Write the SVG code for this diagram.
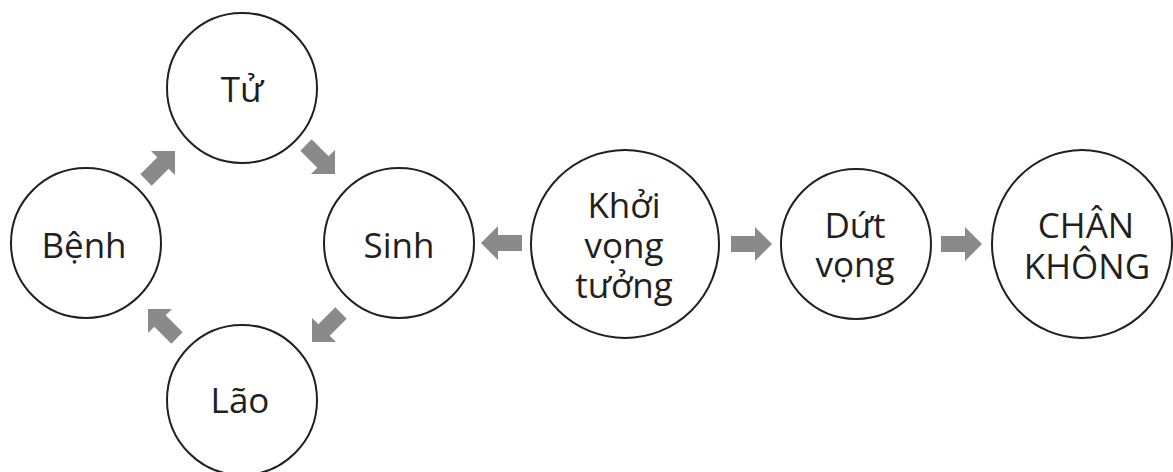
<svg xmlns="http://www.w3.org/2000/svg" xmlns:xlink="http://www.w3.org/1999/xlink" width="1173" height="472" viewBox="0 0 1173 472">
  <style>
    .node circle, .node ellipse { fill: #ffffff; stroke: #231f20; stroke-width: 2; }
    .node text { font-family: "Open Sans", "Noto Sans", "DejaVu Sans", sans-serif; font-size: 35px; fill: #231f20; text-anchor: middle; }
    .arrow { fill: #8a8a8a; }
  </style>
  <defs>
    <path id="arr" d="M0,0 L-17,-17 L-17,-8 L-41,-8 L-41,8 L-17,8 L-17,17 Z"/>
  </defs>
  <rect x="0" y="0" width="1173" height="472" fill="#ffffff"/>

  <g id="connectors">
    <use xlink:href="#arr" href="#arr" class="arrow" transform="translate(175,151) rotate(-45)"/>
    <use xlink:href="#arr" href="#arr" class="arrow" transform="translate(335,174) rotate(45)"/>
    <use xlink:href="#arr" href="#arr" class="arrow" transform="translate(312,342) rotate(135)"/>
    <use xlink:href="#arr" href="#arr" class="arrow" transform="translate(148,309) rotate(225)"/>
    <use xlink:href="#arr" href="#arr" class="arrow" transform="translate(481,243) rotate(180)"/>
    <use xlink:href="#arr" href="#arr" class="arrow" transform="translate(772,244)"/>
    <use xlink:href="#arr" href="#arr" class="arrow" transform="translate(982,244)"/>
  </g>

  <g id="node-tu" class="node">
    <circle cx="242" cy="88" r="75"/>
    <text x="242" y="102">Tử</text>
  </g>
  <g id="node-benh" class="node">
    <circle cx="86" cy="243" r="75"/>
    <text x="84" y="258">Bệnh</text>
  </g>
  <g id="node-sinh" class="node">
    <circle cx="399" cy="243" r="75"/>
    <text x="399" y="258">Sinh</text>
  </g>
  <g id="node-lao" class="node">
    <circle cx="242" cy="400" r="75"/>
    <text x="240" y="413">Lão</text>
  </g>
  <g id="node-khoi" class="node">
    <circle cx="625" cy="244" r="94"/>
    <text x="624" y="218">Khởi</text>
    <text x="624" y="258">vọng</text>
    <text x="624" y="298">tưởng</text>
  </g>
  <g id="node-dut" class="node">
    <circle cx="856" cy="244" r="75"/>
    <text x="855" y="238">Dứt</text>
    <text x="855" y="277">vọng</text>
  </g>
  <g id="node-chan" class="node">
    <ellipse cx="1082" cy="244" rx="90" ry="94"/>
    <text x="1086" y="238">CHÂN</text>
    <text x="1087" y="279">KHÔNG</text>
  </g>
</svg>
